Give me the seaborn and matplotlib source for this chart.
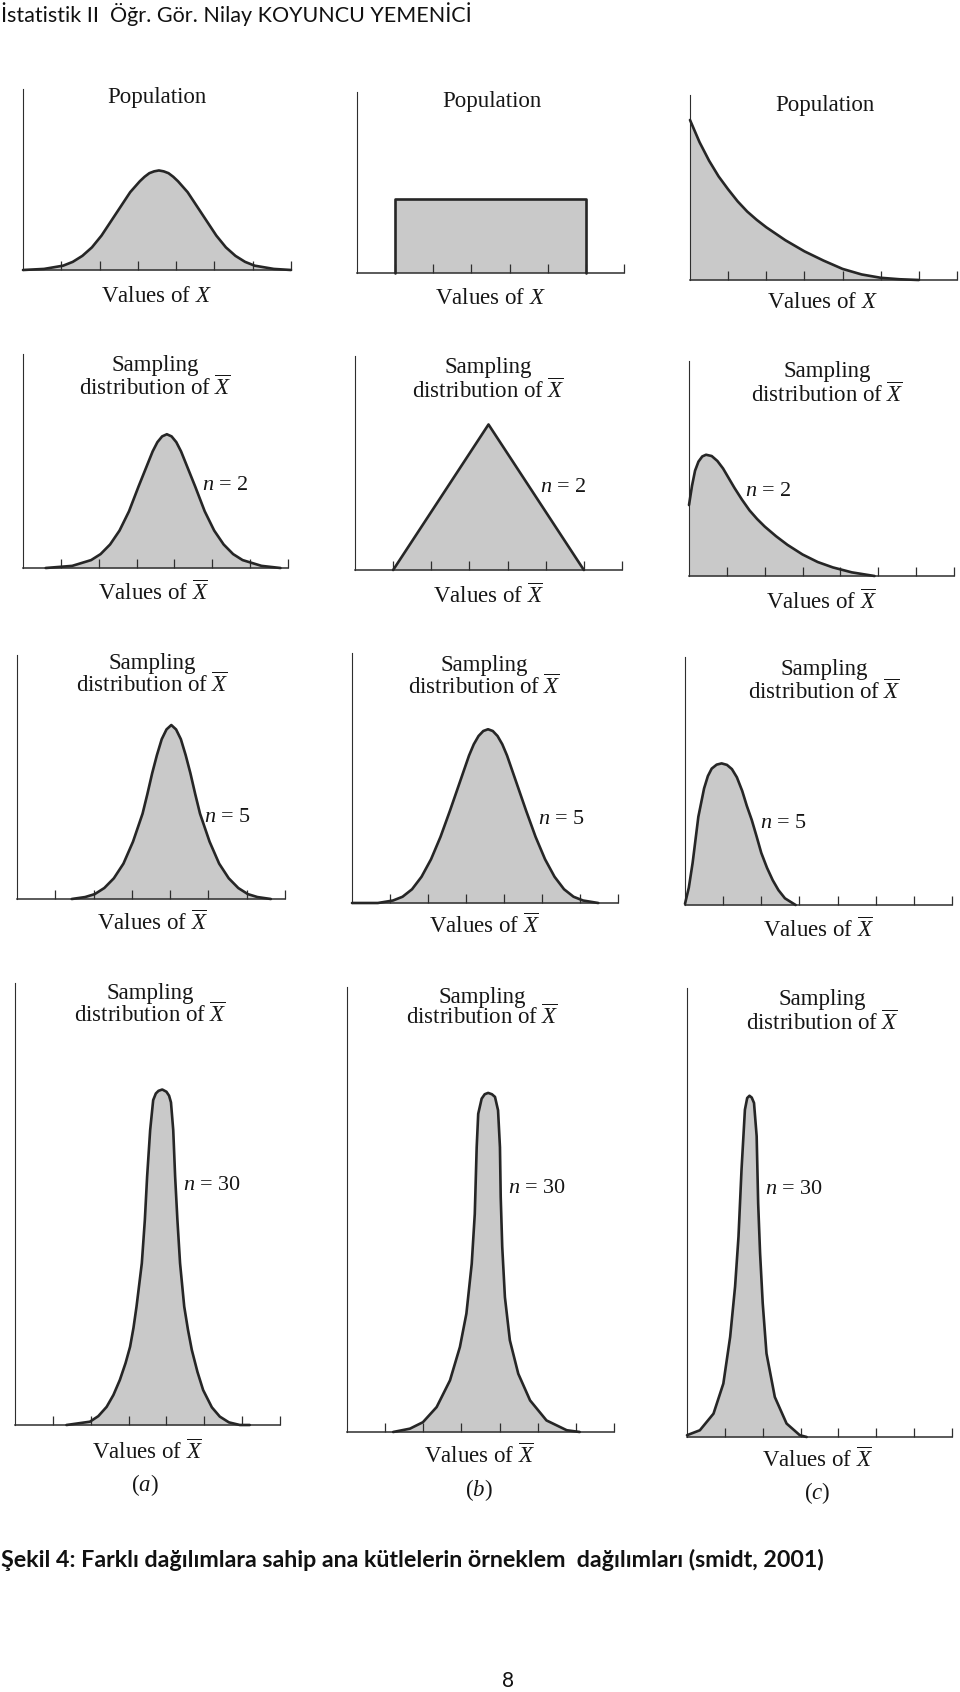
"""
Farklı dağılımlara sahip ana kütlelerin örneklem dağılımları (Şekil 4)
3 sütun (a normal, b düzgün, c üstel) x 4 satır (ana kütle, n=2, n=5, n=30)
"""

import matplotlib
matplotlib.use('Agg')
import matplotlib.pyplot as plt
import seaborn as sns

# ─── 1. Veri (resimden okunan eğri noktaları, y: eksen yüksekliğine oran) ─────
TICKS = [1, 2, 3, 4, 5, 6, 7]

# satır 1 – ana kütle
POP_A_X = [0.0, 0.55, 1.05, 1.3, 1.55, 1.8, 2.05, 2.3, 2.55, 2.8, 3.05, 3.175, 3.3, 3.425, 3.55,
           3.675, 3.8, 3.925, 4.05, 4.3, 4.55, 4.8, 5.05, 5.3, 5.55, 5.8, 6.05, 6.55, 7.0]
POP_A_Y = [0.0, 0.006, 0.024, 0.045, 0.078, 0.125, 0.19, 0.27, 0.35, 0.43, 0.49, 0.515, 0.535, 0.545, 0.55,
           0.545, 0.535, 0.515, 0.49, 0.43, 0.35, 0.27, 0.19, 0.125, 0.078, 0.045, 0.024, 0.006, 0.0]
POP_B_X = [1.0, 1.0, 6.0, 6.0]
POP_B_Y = [0.0, 0.41, 0.41, 0.0]
POP_C_X = [0.0, 0.25, 0.5, 0.75, 1.0, 1.25, 1.5, 1.75, 2.0, 2.5, 3.0, 3.5, 4.0, 4.5, 5.0, 5.5, 6.0]
POP_C_Y = [0.865, 0.745, 0.645, 0.56, 0.49, 0.425, 0.37, 0.325, 0.285, 0.215, 0.155, 0.105, 0.06, 0.03,
           0.012, 0.004, 0.0]

# satır 2 – n = 2
N2_A_X = [0.6, 1.3, 1.8, 2.05, 2.3, 2.55, 2.8, 3.05, 3.3, 3.425, 3.55, 3.675, 3.8,
          3.925, 4.05, 4.175, 4.3, 4.55, 4.8, 5.05, 5.3, 5.55, 5.8, 6.3, 6.8]
N2_A_Y = [0.0, 0.01, 0.037, 0.065, 0.11, 0.175, 0.265, 0.38, 0.49, 0.545, 0.588, 0.615, 0.625,
          0.615, 0.588, 0.545, 0.49, 0.38, 0.265, 0.175, 0.11, 0.065, 0.037, 0.01, 0.0]
N2_B_X = [1.0, 3.5, 6.0]
N2_B_Y = [0.0, 0.68, 0.0]
N2_C_X = [0.0, 0.08, 0.16, 0.25, 0.35, 0.45, 0.6, 0.75, 0.9, 1.05, 1.2, 1.4, 1.6, 1.8, 2.0,
          2.3, 2.6, 3.0, 3.4, 3.8, 4.3, 4.9]
N2_C_Y = [0.33, 0.42, 0.49, 0.532, 0.556, 0.564, 0.558, 0.535, 0.5, 0.455, 0.41, 0.355, 0.305, 0.265, 0.23,
          0.185, 0.145, 0.1, 0.065, 0.04, 0.017, 0.0]

# satır 3 – n = 5
N5_A_X = [1.43, 1.78, 2.03, 2.28, 2.53, 2.78, 3.03, 3.28, 3.405, 3.53, 3.655, 3.78, 3.905, 4.03,
          4.155, 4.28, 4.405, 4.53, 4.655, 4.78, 5.03, 5.28, 5.53, 5.78, 6.03, 6.28, 6.63]
N5_A_Y = [0.0, 0.008, 0.02, 0.045, 0.085, 0.145, 0.235, 0.35, 0.43, 0.515, 0.59, 0.655, 0.695, 0.713,
          0.695, 0.655, 0.59, 0.515, 0.43, 0.35, 0.235, 0.145, 0.085, 0.045, 0.02, 0.008, 0.0]
N5_B_X = [0.0, 0.68, 1.08, 1.33, 1.58, 1.83, 2.08, 2.33, 2.58, 2.83, 3.08, 3.205, 3.33, 3.455, 3.58,
          3.705, 3.83, 3.955, 4.08, 4.33, 4.58, 4.83, 5.08, 5.33, 5.58, 5.83, 6.08, 6.48]
N5_B_Y = [0.0, 0.0, 0.01, 0.025, 0.055, 0.105, 0.175, 0.265, 0.37, 0.48, 0.59, 0.635, 0.668, 0.688, 0.695,
          0.688, 0.668, 0.635, 0.59, 0.48, 0.37, 0.265, 0.175, 0.105, 0.055, 0.025, 0.01, 0.0]
N5_C_X = [0.0, 0.1, 0.2, 0.35, 0.5, 0.6, 0.7, 0.83, 0.96, 1.1, 1.23, 1.36, 1.5, 1.62, 1.75, 1.88,
          2.0, 2.15, 2.3, 2.45, 2.62, 2.9]
N5_C_Y = [0.005, 0.07, 0.17, 0.356, 0.47, 0.52, 0.55, 0.566, 0.571, 0.565, 0.548, 0.515, 0.46, 0.40,
          0.343, 0.275, 0.21, 0.15, 0.10, 0.06, 0.027, 0.0]

# satır 4 – n = 30
N30_A_X = [1.36, 1.98, 2.2, 2.42, 2.6, 2.77, 2.92, 3.04, 3.13, 3.21, 3.35, 3.43, 3.49, 3.57, 3.65,
           3.72, 3.79, 3.89, 4.0, 4.07, 4.12, 4.18, 4.23, 4.29, 4.36, 4.47, 4.57, 4.67, 4.82, 4.97,
           5.2, 5.41, 5.65, 5.94, 6.2]
N30_A_Y = [0.0, 0.0075, 0.02, 0.041, 0.068, 0.102, 0.14, 0.177, 0.22, 0.268, 0.366, 0.464, 0.562, 0.667,
           0.735, 0.75, 0.756, 0.759, 0.754, 0.745, 0.73, 0.667, 0.562, 0.464, 0.366, 0.268, 0.215,
           0.17, 0.12, 0.079, 0.04, 0.019, 0.006, 0.0, 0.0]
N30_B_X = [1.21, 1.65, 1.99, 2.35, 2.70, 2.96, 3.13, 3.27, 3.35, 3.40, 3.44, 3.53, 3.61, 3.70, 3.80,
           3.88, 3.96, 4.01, 4.03, 4.07, 4.14, 4.27, 4.49, 4.80, 5.23, 5.76, 6.1]
N30_B_Y = [0.0, 0.0075, 0.022, 0.056, 0.116, 0.191, 0.266, 0.378, 0.49, 0.64, 0.715, 0.749, 0.759, 0.762,
           0.759, 0.753, 0.723, 0.64, 0.528, 0.416, 0.303, 0.206, 0.131, 0.071, 0.026, 0.004, 0.0]
N30_C_X = [0.0, 0.34, 0.70, 0.96, 1.14, 1.27, 1.36, 1.44, 1.53, 1.59, 1.65, 1.71, 1.77, 1.84, 1.88,
           1.93, 2.0, 2.1, 2.32, 2.63, 2.98, 3.16]
N30_C_Y = [0.004, 0.015, 0.052, 0.119, 0.223, 0.335, 0.446, 0.595, 0.729, 0.755, 0.76, 0.756, 0.744,
           0.67, 0.52, 0.41, 0.298, 0.186, 0.089, 0.03, 0.004, 0.0]

N_LABELS = ['2', '5', '30']

HEADER  = 'İstatistik II  Öğr. Gör. Nilay KOYUNCU YEMENİCİ'
CAPTION = 'Şekil 4: Farklı dağılımlara sahip ana kütlelerin örneklem  dağılımları (smidt, 2001)'
PAGE    = '8'

# ─── 2. Yerleşim (piksel, 960x1692) ──────────────────────────────────────────
W, H = 960, 1692
CURVES = {
    (0, 0): (POP_A_X, POP_A_Y), (0, 1): (POP_B_X, POP_B_Y), (0, 2): (POP_C_X, POP_C_Y),
    (1, 0): (N2_A_X, N2_A_Y),   (1, 1): (N2_B_X, N2_B_Y),   (1, 2): (N2_C_X, N2_C_Y),
    (2, 0): (N5_A_X, N5_A_Y),   (2, 1): (N5_B_X, N5_B_Y),   (2, 2): (N5_C_X, N5_C_Y),
    (3, 0): (N30_A_X, N30_A_Y), (3, 1): (N30_B_X, N30_B_Y), (3, 2): (N30_C_X, N30_C_Y),
}
# (sol, sağ, üst, taban)
BOX = {
    (0, 0): (23, 291, 89, 270),   (0, 1): (357, 624, 92, 273),  (0, 2): (690, 957, 95, 280),
    (1, 0): (23, 288, 354, 568),  (1, 1): (355, 622, 356, 570), (1, 2): (689, 954, 361, 576),
    (2, 0): (17, 285, 655, 899),  (2, 1): (352, 618, 653, 903), (2, 2): (685, 952, 657, 905),
    (3, 0): (15, 280, 983, 1425), (3, 1): (347, 614, 987, 1432), (3, 2): (687, 952, 988, 1437),
}
# başlık satırları, n etiketi, x etiketi konumları (merkez)
TITLE1 = {(1, 0): (155, 365), (1, 1): (488, 368), (1, 2): (827, 372),
          (2, 0): (152, 663), (2, 1): (484, 665), (2, 2): (824, 669),
          (3, 0): (150, 993), (3, 1): (482, 997), (3, 2): (822, 999)}
TITLE2 = {(1, 0): (155, 388), (1, 1): (488, 391), (1, 2): (827, 395),
          (2, 0): (152, 685), (2, 1): (484, 687), (2, 2): (824, 692),
          (3, 0): (150, 1015), (3, 1): (482, 1017), (3, 2): (822, 1023)}
POP_T  = {(0, 0): (157, 98), (0, 1): (492, 101), (0, 2): (825, 105)}
NLAB   = {(1, 0): (225, 486), (1, 1): (563, 488), (1, 2): (768, 491),
          (2, 0): (228, 817), (2, 1): (562, 819), (2, 2): (784, 823),
          (3, 0): (212, 1185), (3, 1): (537, 1188), (3, 2): (794, 1190)}
XLAB   = {(0, 0): (156, 297), (0, 1): (490, 298), (0, 2): (822, 303),
          (1, 0): (153, 593), (1, 1): (488, 596), (1, 2): (821, 602),
          (2, 0): (152, 923), (2, 1): (484, 926), (2, 2): (818, 930),
          (3, 0): (147, 1452), (3, 1): (479, 1456), (3, 2): (817, 1460)}
LETTER = {0: (145, 1485), 1: (479, 1490), 2: (817, 1493)}

# ─── 3. Stil ─────────────────────────────────────────────────────────────────
sns.set_theme(style='white')
SERIF = ['Liberation Serif', 'DejaVu Serif']
SANS  = ['Lato', 'DejaVu Sans']
plt.rcParams['font.family'] = SERIF
plt.rcParams['mathtext.fontset'] = 'custom'
plt.rcParams['mathtext.rm'] = 'Liberation Serif'
plt.rcParams['mathtext.it'] = 'Liberation Serif:italic'
plt.rcParams['mathtext.bf'] = 'Liberation Serif:bold'

FILL  = '#c9c9c9'
EDGE  = '#262626'
AXCOL = '#2e2e2e'
FS    = 16.5

fig = plt.figure(figsize=(W / 100, H / 100), dpi=100)
fig.patch.set_facecolor('white')


def px(x, y):
    return x / W, 1 - y / H


def put(xy, s, size=FS, **kw):
    return fig.text(*px(*xy), s, fontsize=size, ha='center', va='center', color='#161616', **kw)


# ─── 4. Paneller ─────────────────────────────────────────────────────────────
for key, (xs, ys) in CURVES.items():
    L, R, T, B = BOX[key]
    ax = fig.add_axes([L / W, 1 - B / H, (R - L) / W, (B - T) / H])
    ax.set_facecolor('none')
    ax.set_axisbelow(False)

    ax.fill_between(xs, ys, 0, color=FILL, lw=0, zorder=1)
    sns.lineplot(x=xs, y=ys, ax=ax, estimator=None, sort=False,
                 color=EDGE, lw=1.9, zorder=3)
    ax.lines[-1].set_clip_on(False)

    ax.set_xlim(0, 7)
    ax.set_ylim(0, 1)
    ax.set_xticks(TICKS)
    ax.set_xticklabels([])
    ax.set_yticks([])
    ax.tick_params(axis='x', direction='in', length=6.5, width=0.9, colors=AXCOL,
                   bottom=True, pad=0)
    for side in ('top', 'right'):
        ax.spines[side].set_visible(False)
    ax.spines['left'].set_color(AXCOL)
    ax.spines['left'].set_linewidth(0.8)
    ax.spines['bottom'].set_color(AXCOL)
    ax.spines['bottom'].set_linewidth(1.1)
    ax.set_xlabel('')
    ax.set_ylabel('')

# ─── 5. Metinler ─────────────────────────────────────────────────────────────
for key, xy in POP_T.items():
    put(xy, 'Population')
for key, xy in TITLE1.items():
    put(xy, 'Sampling')
for key, xy in TITLE2.items():
    put(xy, r'distribution of $\overline{X}$')
for key, xy in NLAB.items():
    put(xy, '$n$ = ' + N_LABELS[key[0] - 1], size=16)
for key, xy in XLAB.items():
    put(xy, 'Values of $X$' if key[0] == 0 else r'Values of $\overline{X}$')
for col, xy in LETTER.items():
    put(xy, '(' + '$' + 'abc'[col] + '$' + ')')

renderer = fig.canvas.get_renderer()


def fit(t, target):
    w = t.get_window_extent(renderer).width
    t.set_fontsize(t.get_fontsize() * target / w)


hdr = fig.text(*px(1, 14), HEADER, fontsize=16, family=SANS, ha='left', va='center', color='#111111')
fit(hdr, 471)
cap = fig.text(*px(1, 1560), CAPTION, fontsize=17, family=SANS, fontweight='bold',
               ha='left', va='center', color='#111111')
fit(cap, 823)
fig.text(*px(508, 1681), PAGE, fontsize=15, family=SANS, ha='center', va='center', color='#111111')

fig.savefig('out.png', dpi=100)
plt.close(fig)
print('Saved → out.png')
